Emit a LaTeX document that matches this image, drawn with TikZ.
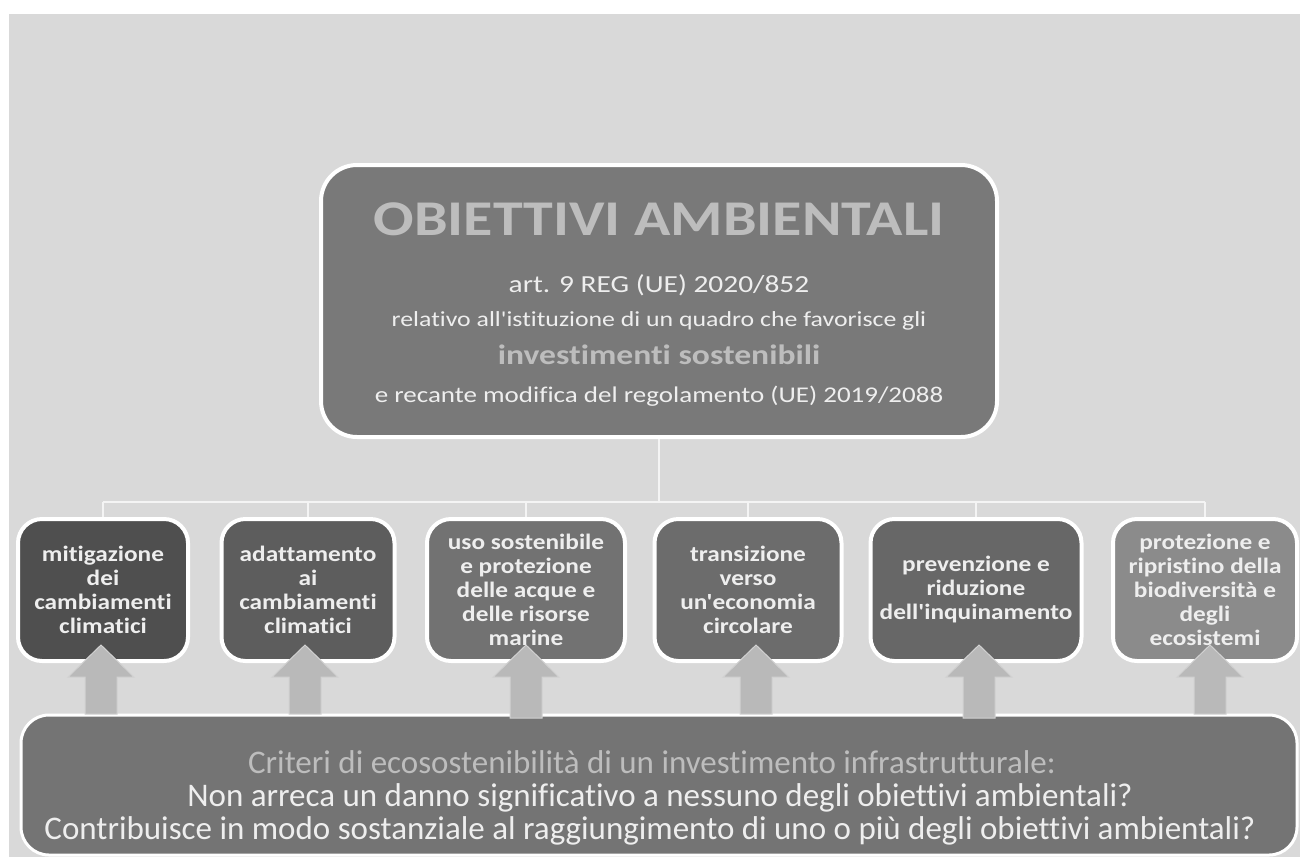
\documentclass[tikz,border=0pt]{standalone}
\usepackage{fontspec}
\setmainfont{Carlito}[Ligatures=NoCommon]
\newfontfamily\topfont[FakeStretch=1.2,Ligatures=NoCommon]{Carlito}
\newfontfamily\boxfont[FakeStretch=1.15,Ligatures=NoCommon]{Carlito}
\definecolor{bgc}{HTML}{D9D9D9}
\definecolor{topc}{HTML}{797979}
\definecolor{botc}{HTML}{747474}
\definecolor{titc}{HTML}{BDBDBD}
\definecolor{lightt}{HTML}{EEEEEE}
\definecolor{c1}{HTML}{4F4F4F}
\definecolor{c2}{HTML}{5D5D5D}
\definecolor{c3}{HTML}{727272}
\definecolor{c4}{HTML}{6C6C6C}
\definecolor{c5}{HTML}{676767}
\definecolor{c6}{HTML}{8B8B8B}
\definecolor{arrc}{HTML}{B9B9B9}
\definecolor{arro}{HTML}{D2D2D2}
\definecolor{linec}{HTML}{F4F4F4}
\tikzset{
  panel/.style={draw=white, line width=4pt, rounded corners=36pt, fill=topc, inner sep=0pt},
  goalbox/.style={draw=white, line width=4pt, rounded corners=24pt, inner sep=0pt,
    minimum height=142pt, align=center, text=lightt,
    font=\boxfont\bfseries\fontsize{22}{24}\selectfont},
  connector/.style={draw=linec, line width=2.5pt},
  bigarrow/.style={fill=arrc, draw=arro, line width=1pt},
  ttext/.style={anchor=base, inner sep=0pt, text=lightt}
}
\newcommand\uparrowshape[2]{%
  \path[bigarrow] (#1-16,#2) -- (#1-16,677) -- (#1-33,677) -- (#1,645) -- (#1+33,677) -- (#1+16,677) -- (#1+16,#2) -- cycle;}
\begin{document}
\begin{tikzpicture}[x=1pt,y=-1pt]
\useasboundingbox (0,0) rectangle (1300,857);
\fill[white] (0,0) rectangle (1300,857);
\fill[bgc] (9,14) rectangle (1300,857);

% top panel
\node[panel, minimum width=676pt, minimum height=272pt] (top) at (659,301) {};
\node[ttext, text=titc, font=\topfont\bfseries\fontsize{50}{60}\selectfont] (title) at (659,235) {OBIETTIVI AMBIENTALI};
\node[ttext, font=\topfont\fontsize{24.5}{28}\selectfont] (art) at (659,292) {art. 9 REG (UE) 2020/852};
\node[ttext, font=\topfont\fontsize{21.5}{26}\selectfont] (rel) at (659,326) {relativo all'istituzione di un quadro che favorisce gli};
\node[ttext, text=titc, font=\topfont\bfseries\fontsize{28}{32}\selectfont] (inv) at (659,364) {investimenti sostenibili};
\node[ttext, font=\topfont\fontsize{22.5}{26}\selectfont] (rec) at (659,402) {e recante modifica del regolamento (UE) 2019/2088};

% goal boxes
\node[goalbox, fill=c1, minimum width=170pt] (g1) at (103,590) {mitigazione\\dei\\cambiamenti\\climatici};
\node[goalbox, fill=c2, minimum width=173pt] (g2) at (308,590) {adattamento\\ai\\cambiamenti\\climatici};
\node[goalbox, fill=c3, minimum width=198pt] (g3) at (526,590) {uso sostenibile\\e protezione\\delle acque e\\delle risorse\\marine};
\node[goalbox, fill=c4, minimum width=187pt] (g4) at (748,590) {transizione\\verso\\un'economia\\circolare};
\node[goalbox, fill=c5, minimum width=211pt] (g5) at (976,590) {prevenzione e\\riduzione\\dell'inquinamento};
\node[goalbox, fill=c6, minimum width=184pt] (g6) at (1205,590) {protezione e\\ripristino della\\biodiversità e\\degli\\ecosistemi};

% tree connectors
\coordinate (hub) at (top.south |- 0,502);
\draw[connector] (top.south) -- (hub);
\draw[connector] (g1.north |- hub) -- (g6.north |- hub);
\foreach \g in {g1,g2,g3,g4,g5,g6}{
  \draw[connector] (\g.north |- hub) -- (\g.north);
}

% bottom box
\node[draw=white, line width=3pt, rounded corners=28pt, fill=botc, minimum width=1276pt, minimum height=140pt, inner sep=0pt] (crit) at (659,785) {};

% arrows
\uparrowshape{101}{714}
\uparrowshape{305}{714}
\uparrowshape{526}{718}
\uparrowshape{756}{714}
\uparrowshape{979}{718}
\uparrowshape{1210}{714}

\node[ttext, text=titc, font=\fontsize{33}{36}\selectfont] (cr1) at (652,773) {Criteri di ecosostenibilità di un investimento infrastrutturale:};
\node[ttext, font=\fontsize{33}{36}\selectfont] (cr2) at (660,806) {Non arreca un danno significativo a nessuno degli obiettivi ambientali?};
\node[ttext, font=\fontsize{33}{36}\selectfont] (cr3) at (650,839) {Contribuisce in modo sostanziale al raggiungimento di uno o più degli obiettivi ambientali?};
\end{tikzpicture}
\end{document}
